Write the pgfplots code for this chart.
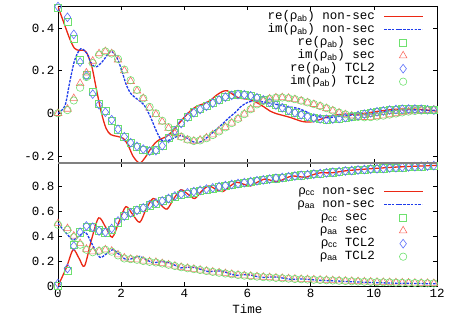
\documentclass[border=0pt]{standalone}
\usepackage{fontspec}
\setmainfont{Liberation Mono}
\newfontfamily\sym{Liberation Sans}
\usepackage{pgfplots}
\usepackage{pgfplotstable}
\pgfplotsset{compat=1.18}

\definecolor{nsred}{RGB}{235,40,20}
\definecolor{nsblue}{RGB}{30,60,235}
\definecolor{mkgreen}{RGB}{110,225,110}
\definecolor{mkred}{RGB}{250,110,100}
\definecolor{mkblue}{RGB}{90,110,250}

\newcommand{\rh}[1]{{\sym ρ\textsubscript{#1}}}

% markers: t, secular re/im, TCL2 re/im
\pgfplotstableread{
t    reS     imS     reT     imT
0.0  0.495   0.0     0.50    0.0
0.3  0.43    0.02    0.45    0.015
0.5  0.35    0.07    0.37    0.06
0.7  0.25    0.14    0.24    0.12
0.9  0.18    0.19    0.175   0.17
1.1  0.10    0.245   0.09    0.235
1.3  0.045   0.28    0.04    0.275
1.5  0.01    0.29    0.005   0.29
1.7  -0.035  0.28    -0.03   0.28
1.9  -0.075  0.25    -0.075  0.255
2.1  -0.11   0.20    -0.11   0.205
2.3  -0.14   0.15    -0.138  0.155
2.5  -0.158  0.105   -0.155  0.11
2.7  -0.17   0.07    -0.168  0.07
2.9  -0.177  0.025   -0.177  0.03
3.1  -0.172  -0.005  -0.175  0.0
3.3  -0.15   -0.04   -0.152  -0.035
3.5  -0.115  -0.07   -0.118  -0.065
3.7  -0.08   -0.095  -0.082  -0.09
3.9  -0.045  -0.112  -0.048  -0.11
4.1  -0.015  -0.125  -0.018  -0.123
4.3  0.005   -0.13   0.003   -0.13
4.5  0.02    -0.125  0.018   -0.127
4.7  0.035   -0.115  0.033   -0.117
4.9  0.05    -0.10   0.048   -0.102
5.1  0.065   -0.083  0.063   -0.085
5.3  0.077   -0.065  0.076   -0.066
5.5  0.085   -0.045  0.084   -0.046
5.7  0.089   -0.025  0.088   -0.026
5.9  0.087   -0.003  0.087   -0.004
6.1  0.081   0.02    0.082   0.019
6.3  0.072   0.043   0.073   0.042
6.5  0.062   0.058   0.063   0.058
6.7  0.05    0.068   0.051   0.068
6.9  0.038   0.073   0.039   0.073
7.1  0.025   0.074   0.026   0.074
7.3  0.013   0.071   0.014   0.071
7.5  0.002   0.065   0.003   0.066
7.7  -0.008  0.058   -0.007  0.059
7.9  -0.016  0.05    -0.015  0.051
8.1  -0.022  0.042   -0.022  0.043
8.3  -0.026  0.033   -0.026  0.034
8.5  -0.028  0.023   -0.028  0.024
8.7  -0.027  0.012   -0.027  0.013
8.9  -0.024  0.002   -0.024  0.003
9.1  -0.02   -0.006  -0.02   -0.005
9.3  -0.015  -0.012  -0.015  -0.012
9.5  -0.01   -0.017  -0.01   -0.017
9.7  -0.004  -0.019  -0.004  -0.019
9.9  0.002   -0.018  0.002   -0.018
10.1 0.007   -0.015  0.007   -0.015
10.3 0.011   -0.011  0.011   -0.011
10.5 0.015   -0.006  0.015   -0.006
10.7 0.018   -0.001  0.018   -0.001
10.9 0.019   0.004   0.019   0.004
11.1 0.02    0.008   0.02    0.008
11.3 0.02    0.011   0.02    0.011
11.5 0.019   0.013   0.019   0.013
11.7 0.017   0.015   0.017   0.015
11.9 0.015   0.016   0.015   0.016
}\coher

\pgfplotstableread{
t    ccS    aaS    ccT    aaT
0.0  0.0    0.50   0.02   0.49
0.3  0.12   0.46   0.14   0.45
0.5  0.33   0.40   0.32   0.39
0.7  0.43   0.34   0.43   0.33
0.9  0.475  0.295  0.48   0.29
1.1  0.47   0.275  0.47   0.27
1.3  0.445  0.28   0.44   0.28
1.5  0.43   0.29   0.43   0.29
1.7  0.45   0.28   0.46   0.275
1.9  0.51   0.25   0.52   0.245
2.1  0.56   0.225  0.56   0.22
2.3  0.59   0.215  0.585  0.215
2.5  0.61   0.21   0.605  0.21
2.7  0.625  0.20   0.625  0.20
2.9  0.645  0.195  0.65   0.193
3.1  0.66   0.19   0.665  0.188
3.3  0.68   0.18   0.68   0.18
3.5  0.70   0.17   0.70   0.17
3.7  0.715  0.16   0.72   0.16
3.9  0.73   0.15   0.735  0.15
4.1  0.74   0.142  0.745  0.142
4.3  0.75   0.135  0.755  0.135
4.5  0.76   0.128  0.765  0.128
4.7  0.77   0.12   0.775  0.12
4.9  0.78   0.113  0.785  0.113
5.1  0.79   0.106  0.795  0.106
5.3  0.80   0.10   0.803  0.10
5.5  0.81   0.094  0.812  0.094
5.7  0.818  0.088  0.82   0.088
5.9  0.826  0.083  0.827  0.083
6.1  0.834  0.079  0.835  0.079
6.3  0.841  0.075  0.842  0.075
6.5  0.848  0.071  0.849  0.071
6.7  0.855  0.068  0.855  0.068
6.9  0.862  0.065  0.862  0.065
7.1  0.868  0.062  0.868  0.062
7.3  0.874  0.059  0.874  0.059
7.5  0.88   0.056  0.88   0.056
7.7  0.885  0.054  0.885  0.054
7.9  0.89   0.052  0.89   0.052
8.1  0.895  0.05   0.895  0.05
8.3  0.90   0.048  0.90   0.048
8.5  0.905  0.046  0.905  0.046
8.7  0.91   0.044  0.91   0.044
8.9  0.915  0.042  0.915  0.042
9.1  0.92   0.04   0.92   0.04
9.3  0.924  0.038  0.924  0.038
9.5  0.928  0.036  0.928  0.036
9.7  0.932  0.034  0.932  0.034
9.9  0.935  0.033  0.935  0.033
10.1 0.938  0.031  0.938  0.031
10.3 0.941  0.03   0.941  0.03
10.5 0.944  0.029  0.944  0.029
10.7 0.947  0.027  0.947  0.027
10.9 0.95   0.026  0.95   0.026
11.1 0.953  0.025  0.953  0.025
11.3 0.955  0.024  0.955  0.024
11.5 0.958  0.023  0.958  0.023
11.7 0.96   0.022  0.96   0.022
11.9 0.963  0.021  0.963  0.021
}\popul

\pgfplotsset{
  panel/.style={
    scale only axis, width=379pt, xmin=0, xmax=12,
    xtick={0,2,...,12},
    axis line style={line width=0.8pt},
    tick style={line width=0.6pt, black},
    major tick length=4pt,
    tick label style={font=\fontsize{12.5}{14}\selectfont},
    label style={font=\fontsize{12.5}{14}\selectfont},
    /pgf/number format/assume math mode=true,
    legend cell align=right,
    legend plot pos=right,
    legend style={draw=none, fill=none, at={(1,1)}, anchor=north east,
      inner sep=0pt, row sep=0pt, column sep=8pt,
      nodes={inner sep=0.5pt, text height=8.5pt, text depth=3.5pt,
             font=\fontsize{12.5}{13}\selectfont}},
    legend image code/.code={\draw[mark repeat=2,mark phase=2,##1]
      plot coordinates {(0pt,0pt) (19pt,0pt) (38pt,0pt)};},
  },
  redline/.style={nsred, line width=1.3pt, smooth},
  blueline/.style={nsblue, line width=1.3pt, smooth, dash pattern=on 2.6pt off 1.2pt},
  msq/.style={only marks, mark=square, mark size=3.6pt, mkgreen, mark options={line width=0.6pt}},
  mtri/.style={only marks, mark=triangle, mark size=4.4pt, mkred, mark options={line width=0.6pt}},
  mdia/.style={only marks, mark=diamond, mark size=4.4pt, mkblue, mark options={line width=0.6pt}},
  mcirc/.style={only marks, mark=o, mark size=3.7pt, mkgreen, mark options={line width=0.6pt}},
}

\begin{document}
\begin{tikzpicture}
\useasboundingbox (-58pt,-42pt) rectangle (411pt,286pt);

\begin{axis}[panel, name=top, at={(0pt,123pt)}, anchor=south west,
  height=157pt, ymin=-0.233, ymax=0.503,
  ytick={-0.2,0,0.2,0.4}, xticklabels={},
  legend style={xshift=-14pt, yshift=-4pt}]
  \addplot[redline] coordinates {
    (0,0.50) (0.22,0.41) (0.37,0.35) (0.52,0.305) (0.67,0.295) (0.82,0.295)
    (0.92,0.28) (1.07,0.22) (1.22,0.11) (1.37,0.005) (1.52,-0.07) (1.67,-0.10)
    (1.87,-0.108) (2.07,-0.118) (2.22,-0.15) (2.37,-0.2) (2.52,-0.228) (2.62,-0.232)
    (2.77,-0.205) (2.92,-0.17) (3.07,-0.14) (3.22,-0.123) (3.42,-0.11) (3.62,-0.085)
    (3.82,-0.05) (4.02,-0.015) (4.22,0.015) (4.42,0.035) (4.62,0.045) (4.82,0.06)
    (5.02,0.085) (5.22,0.103) (5.37,0.105) (5.52,0.09) (5.72,0.072) (5.92,0.068)
    (6.12,0.062) (6.32,0.048) (6.52,0.03) (6.72,0.01) (6.92,-0.002) (7.12,-0.01)
    (7.32,-0.018) (7.52,-0.028) (7.72,-0.038) (7.92,-0.041) (8.12,-0.038) (8.32,-0.028)
    (8.52,-0.017) (8.72,-0.01) (8.92,-0.006) (9.12,-0.005) (9.42,-0.004) (9.72,0.0)
    (10.02,0.007) (10.32,0.013) (10.62,0.018) (10.92,0.02) (11.22,0.02) (11.52,0.017)
    (11.82,0.013) (12.0,0.01)};
  \addplot[blueline] coordinates {
    (0,0.0) (0.22,0.035) (0.37,0.145) (0.52,0.245) (0.67,0.295) (0.77,0.302)
    (0.92,0.28) (1.07,0.23) (1.22,0.218) (1.42,0.245) (1.62,0.285) (1.72,0.288)
    (1.87,0.26) (2.02,0.2) (2.17,0.13) (2.32,0.09) (2.52,0.065) (2.72,0.04)
    (2.92,-0.015) (3.12,-0.085) (3.27,-0.125) (3.42,-0.13) (3.62,-0.12) (3.82,-0.105)
    (4.02,-0.11) (4.22,-0.13) (4.42,-0.138) (4.62,-0.125) (4.82,-0.1) (5.02,-0.075)
    (5.22,-0.048) (5.42,-0.02) (5.62,0.005) (5.82,0.035) (6.02,0.052) (6.22,0.058)
    (6.42,0.055) (6.62,0.05) (6.82,0.045) (7.02,0.038) (7.22,0.032) (7.42,0.028)
    (7.62,0.022) (7.82,0.01) (8.02,-0.005) (8.22,-0.015) (8.42,-0.02) (8.62,-0.02)
    (8.92,-0.014) (9.22,-0.01) (9.52,-0.008) (9.82,-0.005) (10.12,0.003) (10.42,0.01)
    (10.72,0.015) (11.02,0.016) (11.32,0.016) (11.62,0.015) (12.0,0.014)};
  \addplot[msq] table[x=t, y=reS] {\coher};
  \addplot[mtri] table[x=t, y=imS] {\coher};
  \addplot[mdia] table[x=t, y=reT] {\coher};
  \addplot[mcirc] table[x=t, y=imT] {\coher};
  \legend{re(\rh{ab}) non-sec, im(\rh{ab}) non-sec, re(\rh{ab}) sec,
          im(\rh{ab}) sec, re(\rh{ab}) TCL2, im(\rh{ab}) TCL2}
\end{axis}

\begin{axis}[panel, name=bot, at={(0pt,0pt)}, anchor=south west,
  height=123pt, ymin=0, ymax=0.984,
  ytick={0,0.2,0.4,0.6,0.8}, xlabel={Time},
  legend style={xshift=-14pt, yshift=-22pt}]
  \addplot[redline] coordinates {
    (0,0.0) (0.27,0.15) (0.48,0.29) (0.67,0.22) (0.84,0.16) (1.07,0.38)
    (1.29,0.545) (1.51,0.47) (1.72,0.39) (1.94,0.52) (2.15,0.635) (2.37,0.57)
    (2.59,0.51) (2.8,0.62) (3.01,0.70) (3.23,0.655) (3.45,0.615) (3.67,0.70)
    (3.89,0.77) (4.11,0.735) (4.33,0.70) (4.55,0.76) (4.77,0.80) (4.99,0.775)
    (5.21,0.755) (5.43,0.795) (5.65,0.83) (5.87,0.815) (6.09,0.80) (6.31,0.83)
    (6.53,0.855) (6.75,0.845) (6.97,0.835) (7.19,0.86) (7.41,0.88) (7.63,0.875)
    (7.85,0.87) (8.07,0.89) (8.29,0.905) (8.52,0.905) (8.72,0.907) (9.12,0.922)
    (9.62,0.933) (10.12,0.942) (10.62,0.95) (11.12,0.956) (11.62,0.961) (12.0,0.965)};
  \addplot[blueline] coordinates {
    (0,0.5) (0.27,0.42) (0.47,0.37) (0.67,0.40) (0.87,0.43) (1.09,0.33)
    (1.32,0.23) (1.52,0.255) (1.74,0.29) (1.95,0.25) (2.17,0.21) (2.38,0.222)
    (2.59,0.237) (2.8,0.21) (3.02,0.185) (3.23,0.195) (3.45,0.19) (3.67,0.17)
    (3.89,0.145) (4.11,0.15) (4.33,0.148) (4.55,0.13) (4.77,0.115) (4.99,0.12)
    (5.21,0.118) (5.43,0.098) (5.65,0.085) (5.87,0.09) (6.09,0.088) (6.31,0.075)
    (6.53,0.068) (6.75,0.072) (6.97,0.07) (7.19,0.06) (7.41,0.053) (7.63,0.056)
    (7.85,0.054) (8.32,0.045) (8.82,0.04) (9.32,0.034) (9.82,0.029) (10.32,0.025)
    (10.82,0.022) (11.32,0.02) (11.82,0.018) (12.0,0.017)};
  \addplot[msq] table[x=t, y=ccS] {\popul};
  \addplot[mtri] table[x=t, y=aaS] {\popul};
  \addplot[mdia] table[x=t, y=ccT] {\popul};
  \addplot[mcirc] table[x=t, y=aaT] {\popul};
  \legend{\rh{cc} non-sec, \rh{aa} non-sec, \rh{cc} sec\hphantom{x},
          \rh{aa} sec\hphantom{x}, \rh{cc} TCL2, \rh{aa} TCL2}
\end{axis}

\draw[gray, line width=1.6pt] (top.south west) -- (top.south east);
\end{tikzpicture}
\end{document}
